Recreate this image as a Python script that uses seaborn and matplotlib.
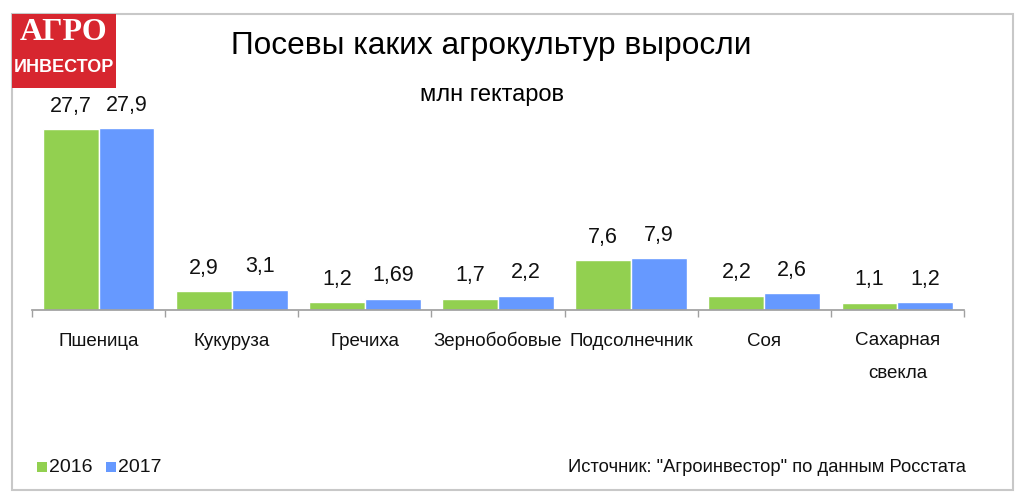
import matplotlib
matplotlib.use("Agg")
import matplotlib.pyplot as plt
import seaborn as sns
import pandas as pd
from matplotlib.patches import Rectangle

categories = ["Пшеница", "Кукуруза", "Гречиха", "Зернобобовые", "Подсолнечник", "Соя", "Сахарная\nсвекла"]
values_2016 = [27.7, 2.9, 1.2, 1.7, 7.6, 2.2, 1.1]
values_2017 = [27.9, 3.1, 1.69, 2.2, 7.9, 2.6, 1.2]
labels_2016 = ["27,7", "2,9", "1,2", "1,7", "7,6", "2,2", "1,1"]
labels_2017 = ["27,9", "3,1", "1,69", "2,2", "7,9", "2,6", "1,2"]
years = ["2016", "2017"]

sns.set_theme(style="white")
plt.rcParams['font.family'] = ['Liberation Sans', 'DejaVu Sans']

df = pd.DataFrame({
    "cat": categories * 2,
    "year": [years[0]] * len(categories) + [years[1]] * len(categories),
    "val": values_2016 + values_2017,
})

W, H = 1024, 504
fig = plt.figure(figsize=(W / 100, H / 100), dpi=100)
fig.patch.set_facecolor("white")

# frame
fig.patches.append(Rectangle((12 / W, 1 - 490 / H), (1013 - 12) / W, (490 - 14) / H,
                             transform=fig.transFigure, fill=False, edgecolor="#c8c8c8", lw=1.5))

ax_left, ax_right, base_y = 32, 964, 310
ymax = 30
px_per = 182 / 27.9
ax_h = ymax * px_per
ax = fig.add_axes([ax_left / W, 1 - base_y / H, (ax_right - ax_left) / W, ax_h / H])

palette = {"2016": "#92D050", "2017": "#6699FF"}
sns.barplot(data=df, x="cat", y="val", hue="year", palette=palette, ax=ax,
            width=0.84, saturation=1, legend=False)
ax.set_ylim(0, ymax)
ax.set_xlim(-0.5, len(categories) - 0.5)
ax.set_xlabel("")
ax.set_ylabel("")
ax.set_yticks([])
for s in ["top", "right", "left"]:
    ax.spines[s].set_visible(False)
ax.spines["bottom"].set_color("#a0a0a0")
ax.set_xticks([i - 0.5 for i in range(len(categories) + 1)], minor=True)
ax.tick_params(axis="x", which="minor", length=5, color="#a0a0a0", bottom=True)
ax.tick_params(axis="x", which="major", length=0, pad=26, labelsize=13.5, labelcolor="#111111")
ax.set_xticks(range(len(categories)))
ax.set_xticklabels(categories, va="baseline", linespacing=2.2)
for lab in ax.get_xticklabels():
    if "\n" in lab.get_text():
        lab.set_va("top")
        lab.set_y(0.07)

for cont, labs in zip(ax.containers, [labels_2016, labels_2017]):
    ax.bar_label(cont, labels=labs, padding=9, fontsize=15.5, color="#111111")

# titles
fig.text(491 / W, 1 - 46 / H, "Посевы каких агрокультур выросли", ha="center", va="center",
         fontsize=22.8, color="black")
fig.text(492 / W, 1 - 95 / H, "млн гектаров", ha="center", va="center", fontsize=17, color="black")

# logo
fig.patches.append(Rectangle((12 / W, 1 - 88 / H), 104 / W, 74 / H, transform=fig.transFigure,
                             facecolor="#D7262F", edgecolor="none"))
fig.text(64 / W, 1 - 33 / H, "АГРО", ha="center", va="center", fontsize=23, color="white",
         family=["Liberation Serif", "DejaVu Serif"], fontweight="bold")
fig.text(64 / W, 1 - 67 / H, "ИНВЕСТОР", ha="center", va="center", fontsize=13, color="white",
         fontweight="bold")

# legend
for i, y in enumerate(years):
    x0 = 37 + i * 69
    fig.patches.append(Rectangle((x0 / W, 1 - 472 / H), 10 / W, 10 / H, transform=fig.transFigure,
                                 facecolor=palette[y], edgecolor="none"))
    fig.text((x0 + 12) / W, 1 - 467 / H, y, ha="left", va="center", fontsize=14, color="#111111")

fig.text(966 / W, 1 - 467 / H, "Источник: \"Агроинвестор\" по данным Росстата", ha="right", va="center",
         fontsize=13.2, color="#111111")

fig.savefig("out.png", dpi=100, facecolor="white")
